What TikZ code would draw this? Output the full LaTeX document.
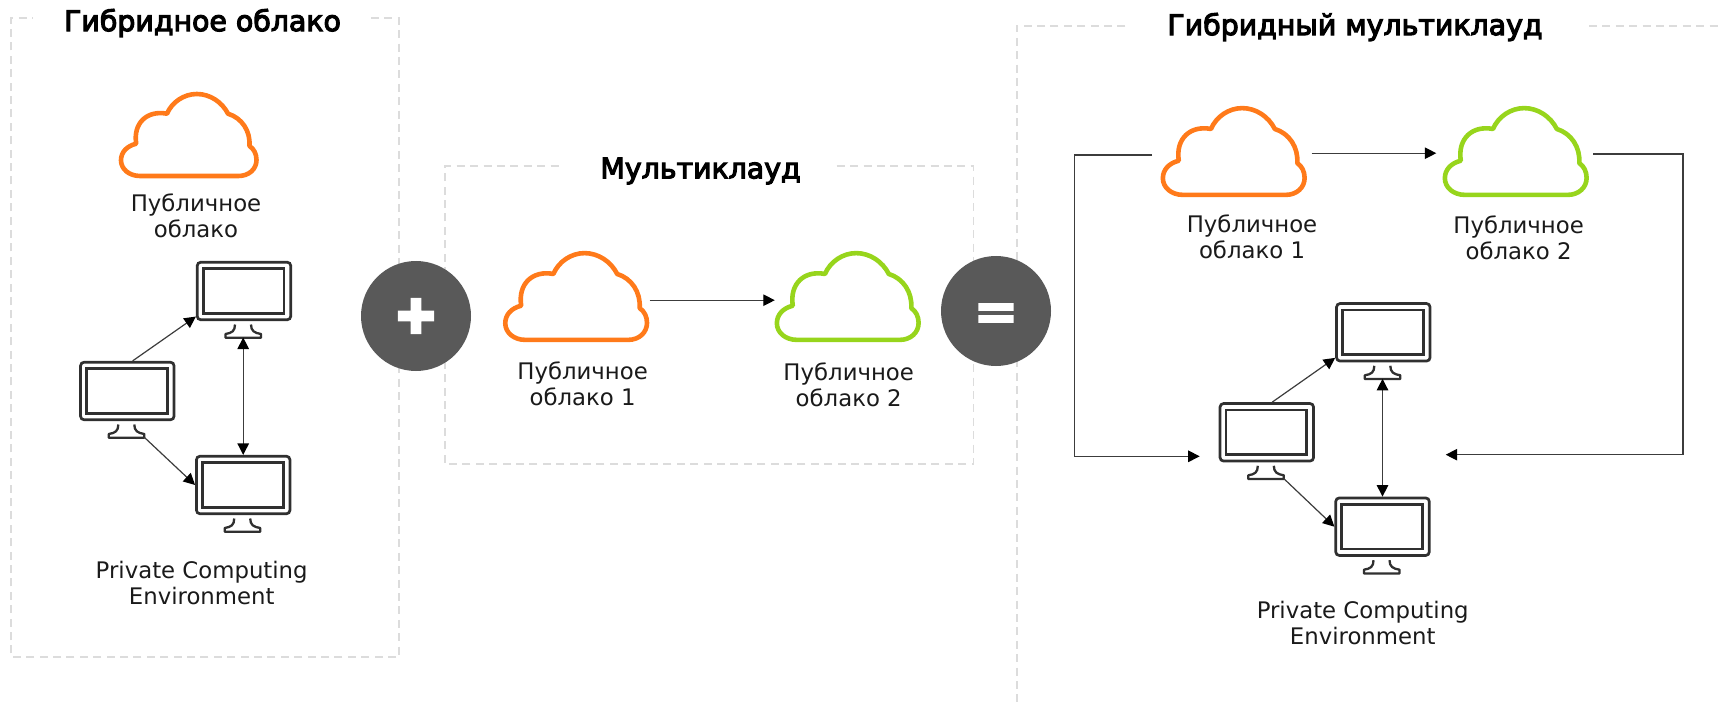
\documentclass[tikz,border=0pt]{standalone}
\usepackage{fontspec}
\setmainfont{DejaVu Sans}
\usetikzlibrary{arrows.meta}
\definecolor{cloudorange}{HTML}{FF7A1A}
\definecolor{cloudgreen}{HTML}{97D51C}
\definecolor{boxgray}{HTML}{DCDCDC}
\definecolor{signgray}{HTML}{595959}
\definecolor{monitorink}{HTML}{303030}
\definecolor{linkink}{HTML}{3C3C3C}
\definecolor{textink}{HTML}{1A1A1A}
\tikzset{
    framebox/.style={boxgray, line width=1.9pt, dash pattern=on 8pt off 5.4pt},
    link/.style={linkink, line width=1.2pt, >={Triangle[length=11.5pt,width=11.5pt,black]}},
    sign/.style={circle, fill=signgray, minimum size=110pt, inner sep=0pt, text=white, font=\bfseries\fontsize{50}{50}\selectfont\addfontfeature{FakeBold=10}},
    equalsign/.style={sign, font=\bfseries\fontsize{54}{54}\selectfont\addfontfeature{FakeBold=3}},
    title/.style={text=black, inner sep=0pt, font=\fontsize{28.4}{32}\selectfont\addfontfeature{FakeBold=4}},
    caption/.style={text=textink, inner sep=0pt, align=center, font=\fontsize{22.8}{26}\selectfont},
    cloudicon/.pic={
        \draw[line width=4.6pt, line join=round, pic actions]
            (-48.8,41) -- (49.5,41)
            .. controls (60,41) and (67.5,34) .. (67.5,25)
            .. controls (67.5,19) and (65,14) .. (60.5,11)
            .. controls (61.5,-4) and (53,-17) .. (39,-21.3)
            .. controls (33,-33) and (21,-41) .. (7.8,-41)
            .. controls (-5,-41) and (-17,-33) .. (-22,-21.3)
            .. controls (-42,-25) and (-56,-12) .. (-52.8,8.7)
            .. controls (-62,11) and (-68,17) .. (-68,25.3)
            .. controls (-68,34) and (-60,41) .. (-48.8,41) -- cycle;
        \coordinate (-r) at (70,3.5);
        \coordinate (-l) at (-70,3.5);
    },
    monitor/.pic={
        \node[draw=monitorink, line width=2.7pt, rounded corners=3.5pt, minimum width=93.5pt, minimum height=57.5pt, inner sep=0pt] (-scr) at (0,0) {};
        \draw[monitorink, line width=2.7pt] (-40.8,-22.4) rectangle (40,22.4);
        \draw[monitorink, line width=2.3pt, line join=round]
            (-9,33.5) .. controls (-9,40) and (-12,42) .. (-18.5,43)
            -- (-18.5,46.7) -- (17,46.7) -- (17,43)
            .. controls (10.5,42) and (7,40) .. (7,33.5);
        \node[minimum width=36pt, minimum height=11pt, inner sep=0pt, outer sep=0pt] (-foot) at (-0.8,41) {};
    },
}

\begin{document}
\begin{tikzpicture}[x=1pt, y=-1pt]
    \useasboundingbox (0,0) rectangle (1723,703);

    % Dashed frames, open behind their titles
    \draw[framebox] (371,18) -- (399,18) -- (399,657) -- (11,657) -- (11,18) -- (33,18);
    \draw[framebox] (836.7,166) -- (973.5,166) -- (973.5,464) -- (445,464) -- (445,166) -- (563.5,166);
    \draw[framebox] (1125.4,26) -- (1016.6,26) -- (1016.6,703);
    \draw[framebox] (1589,26) -- (1718,26);

    % Titles
    \node[title] (titleHybrid) at (202.5,23) {Гибридное облако};
    \node[title] (titleMulti) at (700.5,171) {Мультиклауд};
    \node[title] (titleHybridMulti) at (1355,27) {Гибридный мультиклауд};

    % Hybrid cloud
    \pic[draw=cloudorange] (hcCloud) at (189,135) {cloudicon};
    \node[caption] (hcLabel) at (196,216) {Публичное\\облако};
    \pic (hcA) at (244,291) {monitor};
    \pic (hcB) at (127.3,391) {monitor};
    \pic (hcC) at (243.2,485) {monitor};
    \node[caption] (hcPrivate) at (201.7,583) {Private Computing\\Environment};
    \draw[link, ->] (hcB-scr.80) -- (hcA-scr.208);
    \draw[link, ->] (hcB-foot.south east) -- (hcC-scr.west);
    \draw[link, <->] (hcC-scr.north) -- (hcA-foot.south);

    % Plus and equals
    \node[sign] (plusSign) at (416,316) {+};
    \node[equalsign] (equalSign) at (996,311) {\raisebox{-18.9pt}[0pt][0pt]{=}};

    % Multicloud
    \pic[draw=cloudorange, xscale=1.046, yscale=1.058] (mcA) at (576.4,296.5) {cloudicon};
    \pic[draw=cloudgreen, xscale=1.046, yscale=1.058] (mcB) at (848,296.5) {cloudicon};
    \node[caption] (mcLabelA) at (582.6,384) {Публичное\\облако 1};
    \node[caption] (mcLabelB) at (848.7,385) {Публичное\\облако 2};
    \draw[link, ->] (mcA-r) -- (mcB-l);

    % Hybrid multicloud
    \pic[draw=cloudorange, xscale=1.046, yscale=1.058] (rcA) at (1234,151.5) {cloudicon};
    \pic[draw=cloudgreen, xscale=1.046, yscale=1.058] (rcB) at (1516,151.5) {cloudicon};
    \node[caption] (rcLabelA) at (1252,237) {Публичное\\облако 1};
    \node[caption] (rcLabelB) at (1518.6,238) {Публичное\\облако 2};
    \pic (rmA) at (1383.3,332.3) {monitor};
    \pic (rmB) at (1266.8,432.3) {monitor};
    \pic (rmC) at (1382.5,526.7) {monitor};
    \node[caption] (rmPrivate) at (1362.7,623) {Private Computing\\Environment};
    \coordinate (leftOut) at (1152,155);
    \coordinate (leftIn) at (1199.7,456.3);
    \coordinate (rightOut) at (1593.4,154);
    \coordinate (rightIn) at (1445.7,454.7);
    \draw[link, ->, shorten <=4.5pt, shorten >=6.5pt] ([yshift=2pt]rcA-r) -- ([yshift=2pt]rcB-l);
    \draw[link, ->] (leftOut) -- (1074.7,155) |- (leftIn);
    \draw[link, ->] (rightOut) -- (1683,154) |- (rightIn);
    \draw[link, ->] (rmB-scr.80) -- (rmA-scr.208);
    \draw[link, ->] (rmB-foot.south east) -- (rmC-scr.west);
    \draw[link, <->] (rmC-scr.north) -- (rmA-foot.south);
\end{tikzpicture}
\end{document}
